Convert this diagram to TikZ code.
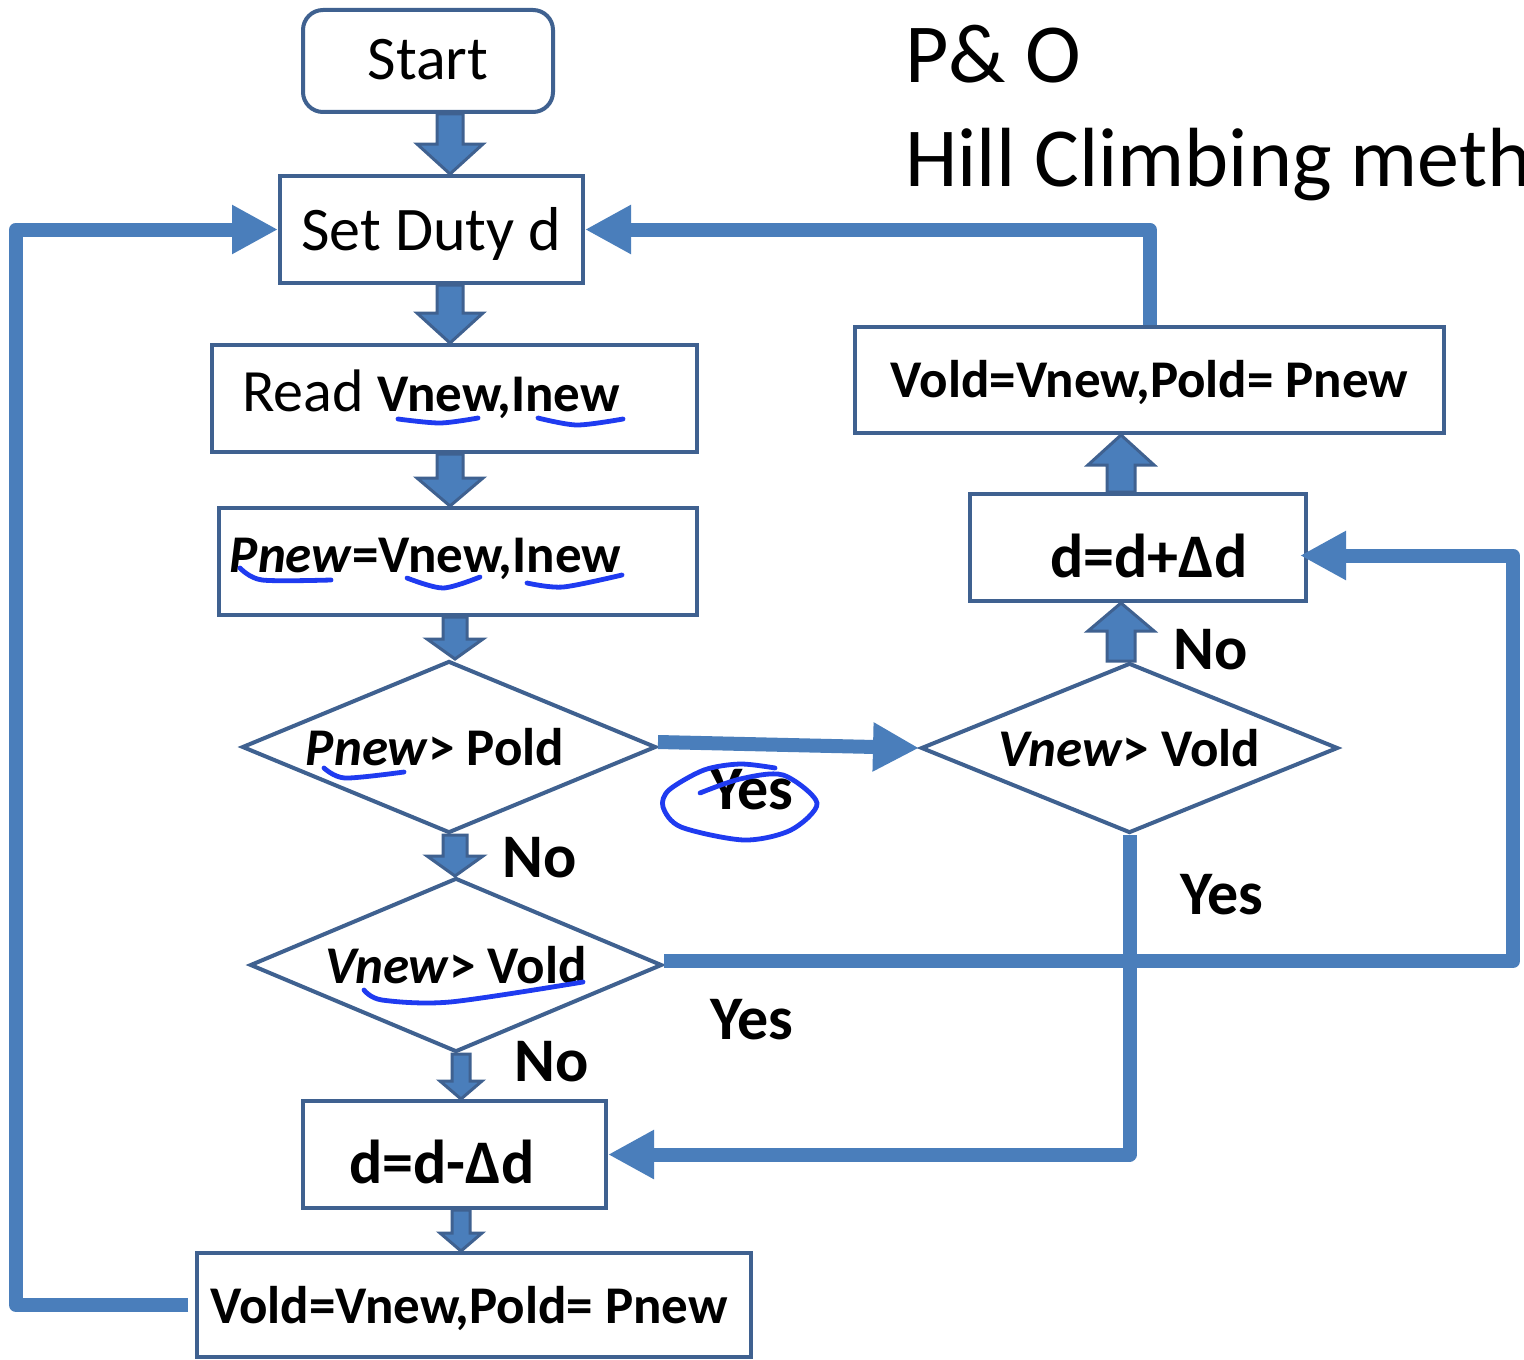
\documentclass[tikz,border=0pt]{standalone}
\usepackage{fontspec}
\setmainfont{Carlito}
\usetikzlibrary{arrows.meta,shapes.geometric,calc}
\definecolor{boxc}{HTML}{3F6190}
\definecolor{fillc}{HTML}{4A7EBB}
\definecolor{ink}{HTML}{1F3BF0}
\tikzset{
  box/.style={draw=boxc, line width=2pt, rectangle, inner sep=0pt, fill=white, text depth=0pt,
    font=\fontsize{26.5}{32}\selectfont\bfseries},
  bigbox/.style={box, font=\fontsize{31}{37}\selectfont},
  dia/.style={draw=boxc, line width=2pt, diamond, inner sep=0pt, fill=white,
    font=\fontsize{26.5}{32}\selectfont\bfseries},
  blk/.style={fill=fillc, draw=boxc, line width=1.5pt, line join=miter},
  conn/.style={draw=fillc, line width=7pt, line join=round,
    -{Triangle[length=23pt,width=23pt]}},
  lbl/.style={font=\fontsize{31}{37}\selectfont\bfseries, inner sep=0pt},
  titl/.style={font=\fontsize{42}{50}\selectfont, inner sep=0pt, anchor=base west},
  hand/.style={draw=ink, line width=2.4pt, line cap=round, line join=round},
}
% block arrow: #1 x (px), #2 from, #3 to, #4 shaft half, #5 head half, #6 signed head length
\newcommand\blockv[6]{%
  \filldraw[blk] let \p0=(#1,0), \p1=(#2), \p2=(#3) in
    ({\x0-#4},{\y1}) -- ({\x0+#4},{\y1}) -- ({\x0+#4},{\y2+0pt+#6}) -- ({\x0+#5},{\y2+0pt+#6}) --
    ({\x0},{\y2}) -- ({\x0-#5},{\y2+0pt+#6}) -- ({\x0-#4},{\y2+0pt+#6}) -- cycle;}
\begin{document}
\begin{tikzpicture}[x=0.5pt,y=-0.5pt]
\clip (0,0) rectangle (1524,1359);
\fill[white] (0,0) rectangle (1524,1359);

% title
\node[titl] (title1) at (905,83) {P\& O};
\node[titl] (title2) at (905,186) {Hill Climbing meth};

% left column
\node[bigbox, rounded corners=10pt, minimum width=125pt, minimum height=51pt, text height=19pt] (start) at (428,61) {Start};
\node[bigbox, minimum width=151.5pt, minimum height=53.5pt, text height=20.5pt] (set) at (431.5,229.5) {Set Duty d};
\node[box, minimum width=242.5pt, minimum height=53.5pt, text height=12.5pt] (read) at (454.5,398.5)
  {\kern-4pt{\fontsize{30}{36}\selectfont\mdseries Read }Vnew,Inew\kern19.5pt};
\node[box, minimum width=239pt, minimum height=53.5pt, text height=10.5pt] (pnew) at (458,561.5)
  {\textit{Pnew}=Vnew,Inew\kern32.5pt};
\node[dia, minimum width=207pt, minimum height=86pt, aspect=2.4] (d1) at (449,747)
  {\textit{Pnew}> Pold\kern14pt};
\node[dia, minimum width=206pt, minimum height=87pt, aspect=2.4] (d2) at (456,965)
  {\textit{Vnew}> Vold};
\node[box, font=\fontsize{31}{37}\selectfont\bfseries, minimum width=151.5pt, minimum height=53.5pt, text height=28.5pt] (dminus) at (454.5,1154.5)
  {d=d-Δd\kern12.5pt};
\node[box, minimum width=277pt, minimum height=52pt, text height=18pt] (bottom) at (474,1305)
  {Vold=Vnew,Pold= Pnew\kern5pt};

% right column
\node[box, minimum width=294.5pt, minimum height=53pt, text height=17pt] (vold2) at (1149.5,380)
  {Vold=Vnew,Pold= Pnew};
\node[box, font=\fontsize{31}{37}\selectfont\bfseries, minimum width=168pt, minimum height=53.5pt, text height=29.5pt] (dplus) at (1138,547.5)
  {\kern11pt d=d+Δd};
\node[dia, minimum width=208.5pt, minimum height=85pt, aspect=2.45] (d3) at (1129.5,748)
  {\textit{Vnew}> Vold};

% block arrows
\blockv{450}{start.south}{set.north}{6.5pt}{16.5pt}{15pt}
\blockv{450}{set.south}{read.north}{6.5pt}{16.5pt}{15pt}
\blockv{450}{read.south}{pnew.north}{6.5pt}{16.5pt}{14pt}
\blockv{455}{pnew.south}{d1.north}{6pt}{14pt}{10pt}
\blockv{455}{d1.south}{d2.north}{6pt}{14pt}{10pt}
\blockv{461}{d2.south}{dminus.north}{4.5pt}{10.5pt}{9pt}
\blockv{461}{dminus.south}{bottom.north}{4.5pt}{10.5pt}{9pt}
\blockv{1121}{dplus.north}{vold2.south}{7pt}{16.5pt}{-15pt}
\blockv{1121}{d3.north}{dplus.south}{7pt}{16.5pt}{-14pt}

% connectors
\coordinate (lx) at (16,0);
\coordinate (rx) at (1513,0);
\draw[conn] ($(bottom.west)+(-7,0)$) -| (lx |- set.west) -- (set.west);
\draw[conn] (vold2.north) |- (set.east);
\draw[conn] ($(d1.east)+(0,-5)$) -- (d3.west);
\draw[conn] (d3.south) |- (dminus.east);
\coordinate (d2r) at ($(d2.east)+(0,-4)$);
\draw[conn] (d2r) -- (d2r -| rx) |- ($(dplus.east)+(-8,8)$);

% labels
\node[lbl] (no1) at (540,858) {No};
\node[lbl] (yes1) at (752,790) {Yes};
\node[lbl] (no2) at (1211,650) {No};
\node[lbl] (yes2) at (1222,895) {Yes};
\node[lbl] (yes3) at (752,1020) {Yes};
\node[lbl] (no3) at (552,1062) {No};

% handwritten annotations
\draw[hand] plot[smooth] coordinates {(398,419) (440,423) (478,418)};
\draw[hand] plot[smooth] coordinates {(538,418) (577,425) (623,419)};
\draw[hand] plot[smooth] coordinates {(240,568) (262,580) (331,580)};
\draw[hand] plot[smooth] coordinates {(407,578) (443,588) (480,577)};
\draw[hand] plot[smooth] coordinates {(527,583) (563,587) (622,575)};
\draw[hand] plot[smooth] coordinates {(324,768) (345,778) (404,772)};
\draw[hand] plot[smooth] coordinates {(364,990) (382,1000) (450,1002) (583,982)};
\draw[hand] plot[smooth] coordinates {(700,793) (740,779) (783,775) (817,803) (791,830) (744,840) (681,827) (663,807) (669,790) (704,770) (740,764) (775,768)};
\end{tikzpicture}
\end{document}
